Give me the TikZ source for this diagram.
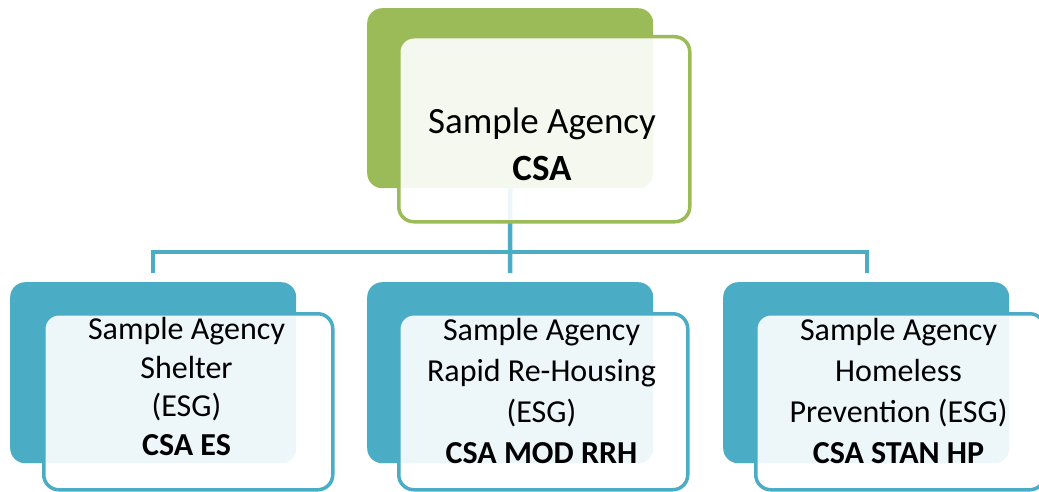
\documentclass[tikz,border=0pt]{standalone}
\usepackage{fontspec}
\setmainfont{Carlito}
\definecolor{leafgreen}{HTML}{9BBB59}
\definecolor{seablue}{HTML}{4BACC6}
\tikzset{
  backbox/.style={rectangle, rounded corners=15pt, inner sep=0pt, anchor=north west,
    minimum width=286pt, minimum height=181pt},
  frontbox/.style={rectangle, rounded corners=15pt, inner sep=0pt, anchor=north west,
    line width=3.5pt, fill=white, fill opacity=0.9, draw opacity=1,
    minimum width=289pt, minimum height=176pt},
  toplabel/.style={anchor=base, align=center, inner sep=0pt,
    font=\fontsize{37}{47}\selectfont},
  unitlabel/.style={anchor=base, align=center, inner sep=0pt,
    font=\fontsize{32}{40}\selectfont},
  link/.style={draw=seablue, line width=4.5pt}
}
\begin{document}
\begin{tikzpicture}[x=1pt,y=-1pt]
\useasboundingbox (0,0) rectangle (1039,492);
\clip (0,0) rectangle (1039,492);

% connector points
\coordinate (hub) at (510,252);
\coordinate (esjoin) at (153,252);
\coordinate (hpjoin) at (867,252);
\coordinate (esend) at (153,273);
\coordinate (rrhend) at (510,273);
\coordinate (hpend) at (867,273);

% back panels
\node[backbox, fill=leafgreen, minimum height=180pt] (rootback) at (367,8) {};
\node[backbox, fill=seablue] (esback) at (10,282) {};
\node[backbox, fill=seablue] (rrhback) at (367,282) {};
\node[backbox, fill=seablue] (hpback) at (723,282) {};

% connectors
\draw[link] (rootback.south) -- (rrhend);
\draw[link] (esend) -- (esjoin) -- (hpjoin) -- (hpend);

% front panels
\node[frontbox, draw=leafgreen, minimum width=291pt, minimum height=185pt] (rootfront) at (397,35) {};
\node[frontbox, draw=seablue] (esfront) at (42,312) {};
\node[frontbox, draw=seablue] (rrhfront) at (397,312) {};
\node[frontbox, draw=seablue] (hpfront) at (754,312) {};

% labels (anchored at the baseline of the last line)
\node[toplabel] (roottext) at (542,180) {Sample Agency\\\textbf{CSA}};
\node[unitlabel, font=\fontsize{32}{38.5}\selectfont] (estext) at (186.5,455)
  {Sample Agency\\Shelter\\(ESG)\\\textbf{CSA ES}};
\node[unitlabel, font=\fontsize{32}{41}\selectfont] (rrhtext) at (541.5,463)
  {Sample Agency\\Rapid Re-Housing\\(ESG)\\\textbf{CSA MOD RRH}};
\node[unitlabel, font=\fontsize{32}{41}\selectfont] (hptext) at (898.5,463)
  {Sample Agency\\Homeless\\Prevention (ESG)\\\textbf{CSA STAN HP}};
\end{tikzpicture}
\end{document}
